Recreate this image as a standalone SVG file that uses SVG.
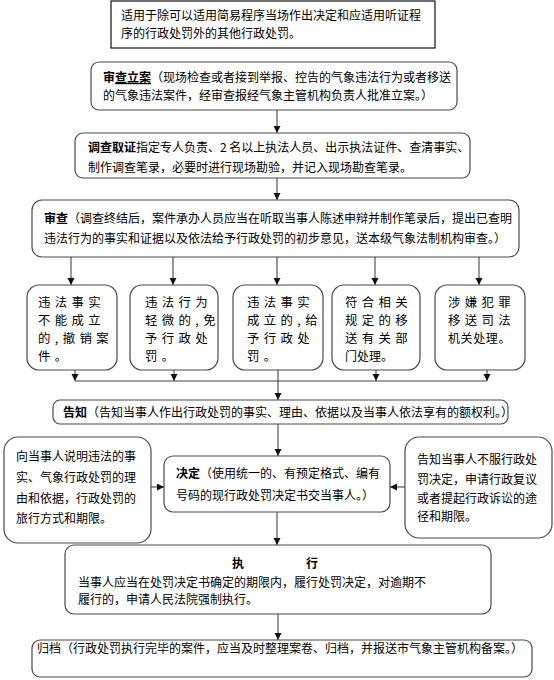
<svg xmlns="http://www.w3.org/2000/svg" width="554" height="680" viewBox="0 0 554 680">
<style>
text{font-family:"Noto Sans CJK SC","Liberation Sans",sans-serif;fill:#000;font-size:12px}
.box{fill:#fff;stroke:#4a4a4a;stroke-width:1.2}
.line{fill:none;stroke:#444;stroke-width:1.1}
.b{font-weight:bold}
.big{font-size:12.4px;letter-spacing:4.4px}
</style>
<defs>
<marker id="ah" markerUnits="userSpaceOnUse" markerWidth="8" markerHeight="8" refX="7" refY="3.5" orient="auto">
<path d="M0,0 L7,3.5 L0,7 z" fill="#111"/>
</marker>
</defs>
<rect width="554" height="680" fill="#fff"/>
<g id="connectors">
<line class="line" x1="277" y1="110" x2="277" y2="133" marker-end="url(#ah)"/>
<line class="line" x1="277" y1="178" x2="277" y2="200" marker-end="url(#ah)"/>
<line class="line" x1="71" y1="257" x2="71" y2="285" marker-end="url(#ah)"/>
<line class="line" x1="173" y1="257" x2="173" y2="285" marker-end="url(#ah)"/>
<line class="line" x1="277" y1="257" x2="277" y2="285" marker-end="url(#ah)"/>
<line class="line" x1="375" y1="257" x2="375" y2="285" marker-end="url(#ah)"/>
<line class="line" x1="479" y1="257" x2="479" y2="285" marker-end="url(#ah)"/>
<line class="line" x1="75" y1="370" x2="75" y2="381" marker-end="url(#ah)"/>
<line class="line" x1="174" y1="370" x2="174" y2="381" marker-end="url(#ah)"/>
<line class="line" x1="376" y1="370" x2="376" y2="381" marker-end="url(#ah)"/>
<line class="line" x1="487" y1="370" x2="487" y2="381" marker-end="url(#ah)"/>
<line class="line" x1="75" y1="381" x2="487" y2="381"/>
<line class="line" x1="278" y1="370" x2="278" y2="400" marker-end="url(#ah)"/>
<line class="line" x1="278" y1="424" x2="278" y2="456" marker-end="url(#ah)"/>
<line class="line" x1="151" y1="487" x2="164" y2="487" marker-end="url(#ah)"/>
<line class="line" x1="405" y1="487" x2="390" y2="487" marker-end="url(#ah)"/>
<line class="line" x1="277" y1="512" x2="277" y2="545" marker-end="url(#ah)"/>
<line class="line" x1="278" y1="614" x2="278" y2="640" marker-end="url(#ah)"/>
</g>
<g id="scope">
<rect x="111" y="1" width="324" height="47" fill="#fff" stroke="#111" stroke-width="1.2"/>
<text x="121" y="20" font-size="12.2">适用于除可以适用简易程序当场作出决定和应适用听证程</text>
<text x="121" y="38" font-size="12.2">序的行政处罚外的其他行政处罚。</text>
</g>
<g id="filing">
<rect class="box" x="91" y="62" width="366" height="48" rx="8"/>
<text x="103" y="82" font-size="11.7"><tspan class="b">审</tspan><tspan class="b" text-decoration="underline">查立案</tspan>（现场检查或者接到举报、控告的气象违法行为或者移送</text>
<text x="103" y="100" font-size="11.7">的气象违法案件，经审查报经气象主管机构负责人批准立案。）</text>
</g>
<g id="investigation">
<rect class="box" x="75" y="133" width="395" height="45" rx="8"/>
<text x="88" y="152" font-size="12"><tspan class="b">调查取证</tspan>指定专人负责、2 名以上执法人员、出示执法证件、查清事实、</text>
<text x="88" y="172" font-size="12">制作调查笔录，必要时进行现场勘验，并记入现场勘查笔录。</text>
</g>
<g id="review">
<rect class="box" x="32" y="200" width="487" height="57" rx="10"/>
<text x="44" y="223" font-size="11.6"><tspan class="b">审查</tspan>（调查终结后，案件承办人员应当在听取当事人陈述申辩并制作笔录后，提出已查明</text>
<text x="44" y="243" font-size="11.6">违法行为的事实和证据以及依法给予行政处罚的初步意见，送本级气象法制机构审查。）</text>
</g>
<g id="r1">
<rect class="box" x="27" y="285" width="90" height="85" rx="12"/>
<text class="big" x="38" y="307">违法事实</text>
<text class="big" x="38" y="325">不能成立</text>
<text class="big" x="38" y="343">的,撤销案</text>
<text class="big" x="38" y="361">件。</text>
</g>
<g id="r2">
<rect class="box" x="130" y="285" width="88" height="85" rx="12"/>
<text class="big" x="145" y="307">违法行为</text>
<text class="big" x="145" y="325">轻微的,免</text>
<text class="big" x="145" y="343">予行政处</text>
<text class="big" x="145" y="361">罚。</text>
</g>
<g id="r3">
<rect class="box" x="233" y="285" width="90" height="85" rx="12"/>
<text class="big" x="247" y="307">违法事实</text>
<text class="big" x="247" y="325">成立的,给</text>
<text class="big" x="247" y="343">予行政处</text>
<text class="big" x="247" y="361">罚。</text>
</g>
<g id="r4">
<rect class="box" x="332" y="285" width="88" height="85" rx="12"/>
<text class="big" x="345" y="307">符合相关</text>
<text class="big" x="345" y="325">规定的移</text>
<text class="big" x="345" y="343">送有关部</text>
<text x="345" y="361" font-size="13.5">门处理。</text>
</g>
<g id="r5">
<rect class="box" x="435" y="285" width="90" height="85" rx="12"/>
<text class="big" x="448" y="307">涉嫌犯罪</text>
<text class="big" x="448" y="325">移送司法</text>
<text x="448" y="343" font-size="12.4" letter-spacing="0.6">机关处理。</text>
</g>
<g id="notify">
<rect class="box" x="53" y="400" width="455" height="24" rx="7"/>
<text x="63" y="417" font-size="11.8"><tspan class="b">告知</tspan>（告知当事人作出行政处罚的事实、理由、依据以及当事人依法享有的额权利。）</text>
</g>
<g id="explain">
<rect class="box" x="4" y="437" width="147" height="106" rx="14"/>
<text x="16" y="461" font-size="12.2">向当事人说明违法的事</text>
<text x="16" y="482" font-size="12.2">实、气象行政处罚的理</text>
<text x="16" y="503" font-size="12.2">由和依据，行政处罚的</text>
<text x="16" y="523" font-size="12.2">旅行方式和期限。</text>
</g>
<g id="decision">
<rect class="box" x="164" y="456" width="226" height="56" rx="9"/>
<text x="176" y="478" font-size="12.1"><tspan class="b">决定</tspan>（使用统一的、有预定格式、编有</text>
<text x="176" y="500" font-size="12.1">号码的现行政处罚决定书交当事人。）</text>
</g>
<g id="remedy">
<rect class="box" x="405" y="437" width="147" height="101" rx="14"/>
<text x="417" y="464" font-size="12.2">告知当事人不服行政处</text>
<text x="417" y="484" font-size="12.2">罚决定，申请行政复议</text>
<text x="417" y="503" font-size="12.2">或者提起行政诉讼的途</text>
<text x="417" y="521" font-size="12.2">径和期限。</text>
</g>
<g id="execute">
<rect class="box" x="65" y="545" width="426" height="69" rx="9"/>
<text x="232" y="568" font-size="14" class="b">执</text>
<text x="306" y="568" font-size="14" class="b">行</text>
<text x="78" y="587" font-size="13.7">当事人应当在处罚决定书确定的期限内，履行处罚决定，对逾期不</text>
<text x="78" y="604" font-size="13.7">履行的，申请人民法院强制执行。</text>
</g>
<g id="archive">
<rect class="box" x="32" y="640" width="500" height="37" rx="8"/>
<text x="37" y="653" font-size="11.9">归档（行政处罚执行完毕的案件，应当及时整理案卷、归档，并报送市气象主管机构备案。）</text>
</g>
</svg>
